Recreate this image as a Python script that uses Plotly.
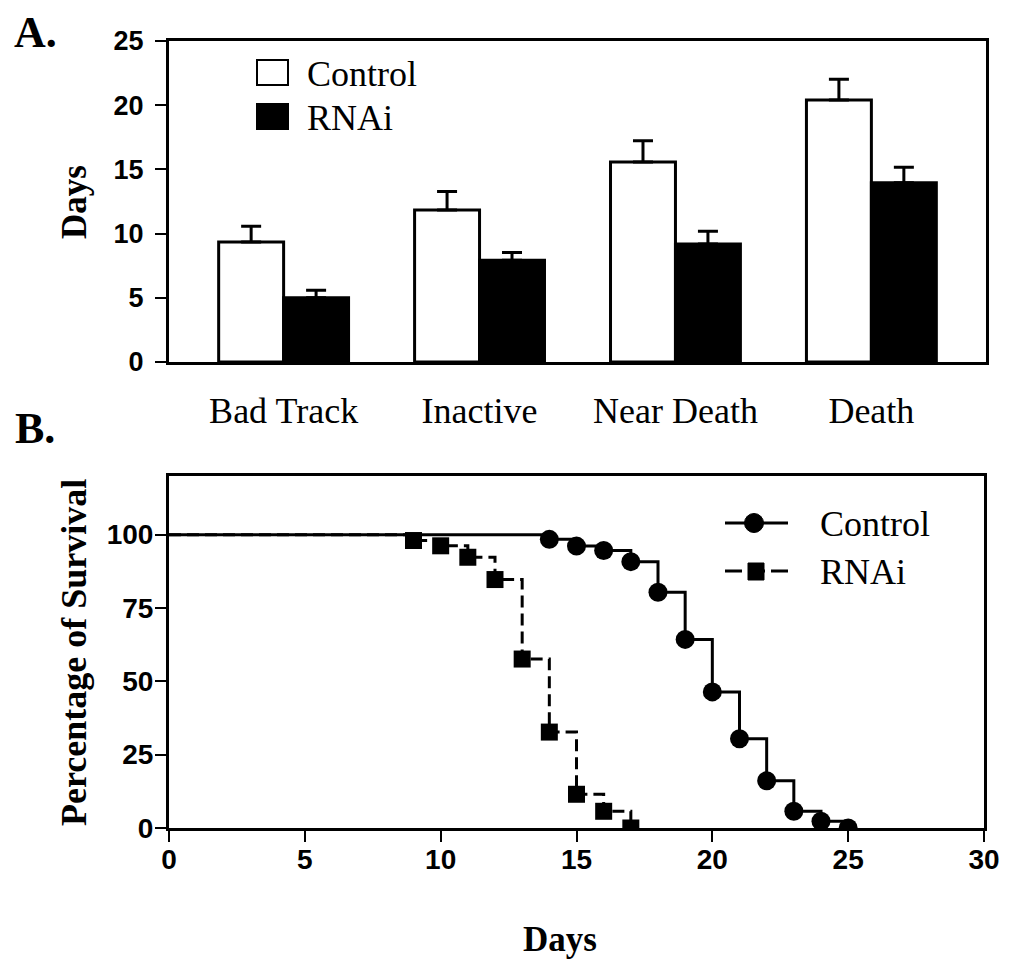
import plotly.graph_objects as go

# ---------------- data ----------------
stages = ["Bad Track", "Inactive", "Near Death", "Death"]
control_days = [9.35, 11.84, 15.58, 20.40]
control_err = [1.22, 1.43, 1.66, 1.62]
rnai_days = [5.00, 7.92, 9.19, 13.97]
rnai_err = [0.58, 0.60, 0.99, 1.19]

ctrl_surv_day = [0, 14, 15, 16, 17, 18, 19, 20, 21, 22, 23, 24, 25]
ctrl_surv_pct = [100, 98.4, 96.1, 94.6, 90.8, 80.4, 64.3, 46.4, 30.4, 16.1, 5.7, 2.3, 0]
rnai_surv_day = [0, 9, 10, 11, 12, 13, 14, 15, 16, 17]
rnai_surv_pct = [100, 98.0, 96.2, 92.3, 84.7, 57.6, 32.7, 11.5, 5.7, 0]

bar_ticks = [0, 5, 10, 15, 20, 25]
surv_yticks = [0, 25, 50, 75, 100]
surv_xticks = [0, 5, 10, 15, 20, 25, 30]

# the page body has an 8px margin; size the figure so it fits the window
OFF = 8
W, H = 1011 - OFF, 961 - OFF
SERIF = "Times New Roman, Liberation Serif, serif"
SANS = "Arial, Liberation Sans, sans-serif"


def px(x):
    return (x - OFF) / W


def py(y):
    return 1 - (y - OFF) / H


fig = go.Figure()

# ---------------- panel A: bars ----------------
fig.add_trace(go.Bar(
    x=stages, y=control_days, name="Control",
    marker=dict(color="white", line=dict(color="black", width=3)),
    error_y=dict(type="data", symmetric=False, array=control_err,
                 arrayminus=[0] * len(control_err), color="black",
                 thickness=3, width=10),
    xaxis="x", yaxis="y", showlegend=False,
))
fig.add_trace(go.Bar(
    x=stages, y=rnai_days, name="RNAi",
    marker=dict(color="black", line=dict(color="black", width=3)),
    error_y=dict(type="data", symmetric=False, array=rnai_err,
                 arrayminus=[0] * len(rnai_err), color="black",
                 thickness=3, width=10),
    xaxis="x", yaxis="y", showlegend=False,
))

# ---------------- panel B: survival ----------------
fig.add_trace(go.Scatter(
    x=ctrl_surv_day, y=ctrl_surv_pct, name="Control", mode="lines+markers",
    line=dict(color="black", width=3, shape="hv"),
    marker=dict(symbol="circle", color="black", opacity=1,
                line=dict(width=0),
                size=[0] + [19] * (len(ctrl_surv_day) - 1)),
    xaxis="x2", yaxis="y2", showlegend=False,
))
fig.add_trace(go.Scatter(
    x=rnai_surv_day, y=rnai_surv_pct, name="RNAi", mode="lines+markers",
    line=dict(color="black", width=3, shape="hv", dash="12px,6px"),
    marker=dict(symbol="square", color="black", opacity=1,
                line=dict(width=0),
                size=[0] + [17] * (len(rnai_surv_day) - 1)),
    xaxis="x2", yaxis="y2", showlegend=False,
))

axis_common = dict(showgrid=False, zeroline=False, showline=True,
                   linecolor="black", linewidth=3, mirror=True, automargin=False,
                   ticks="outside", tickcolor="black", tickwidth=2, ticklen=11)

fig.update_layout(
    width=W, height=H, autosize=False,
    margin=dict(l=0, r=0, t=0, b=0, pad=0, autoexpand=False),
    paper_bgcolor="white", plot_bgcolor="white",
    barmode="group", bargap=0.337, bargroupgap=0,
    xaxis=dict(axis_common, domain=[px(169), px(986)], anchor="y",
               range=[-0.585, 3.585], ticklen=15, tickcolor="rgba(0,0,0,0)",
               tickfont=dict(family=SERIF, size=36, color="black")),
    yaxis=dict(axis_common, domain=[py(362), py(41)], anchor="x",
               range=[0, 25], tickvals=bar_ticks, ticklabelstandoff=6,
               tickfont=dict(family=SANS, size=27, color="black", weight="bold")),
    xaxis2=dict(axis_common, domain=[px(169), px(984)], anchor="y2",
                range=[0, 30], tickvals=surv_xticks, ticklabelstandoff=-7,
                tickfont=dict(family=SANS, size=28, color="black", weight="bold")),
    yaxis2=dict(axis_common, domain=[py(828), py(476)], anchor="x2",
                range=[0, 120], tickvals=surv_yticks, ticklabelstandoff=-4,
                tickfont=dict(family=SANS, size=28, color="black", weight="bold")),
)

# ---------------- legends (drawn manually) ----------------
shapes = [
    # panel A legend swatches
    dict(type="rect", xref="paper", yref="paper",
         x0=px(257), x1=px(288), y0=py(85), y1=py(60),
         line=dict(color="black", width=2), fillcolor="white"),
    dict(type="rect", xref="paper", yref="paper",
         x0=px(257), x1=px(288), y0=py(129), y1=py(104),
         line=dict(color="black", width=2), fillcolor="black"),
    # panel B legend
    dict(type="line", xref="paper", yref="paper",
         x0=px(725), x1=px(788), y0=py(523), y1=py(523),
         line=dict(color="black", width=3)),
    dict(type="circle", xref="paper", yref="paper",
         x0=px(744.5), x1=px(763.5), y0=py(532.5), y1=py(513.5),
         line=dict(color="black", width=1), fillcolor="black"),
    dict(type="line", xref="paper", yref="paper",
         x0=px(725), x1=px(788), y0=py(571), y1=py(571),
         line=dict(color="black", width=3, dash="17px,6px")),
    dict(type="rect", xref="paper", yref="paper",
         x0=px(748), x1=px(764), y0=py(580), y1=py(563),
         line=dict(color="black", width=1), fillcolor="black"),
]
fig.update_layout(shapes=shapes)

ann = []


def text(s, x, y, size, family=SERIF, bold=False, angle=0, xanchor="center"):
    ann.append(dict(text=s, x=px(x), y=py(y), xref="paper", yref="paper",
                    showarrow=False, textangle=angle, xanchor=xanchor,
                    yanchor="middle",
                    font=dict(family=family, size=size, color="black",
                              weight="bold" if bold else "normal")))


text("A.", 35, 33, 44, bold=True)
text("B.", 35, 428, 44, bold=True)
text("Days", 74, 202, 35, bold=True, angle=-90)
text("Percentage of Survival", 74, 653, 36, bold=True, angle=-90)
text("Days", 560, 939, 35, bold=True)
text("Control", 305, 74, 36, xanchor="left")
text("RNAi", 305, 118, 36, xanchor="left")
text("Control", 818, 524, 36, xanchor="left")
text("RNAi", 818, 572, 36, xanchor="left")
fig.update_layout(annotations=ann)

fig.write_html("out.html")
